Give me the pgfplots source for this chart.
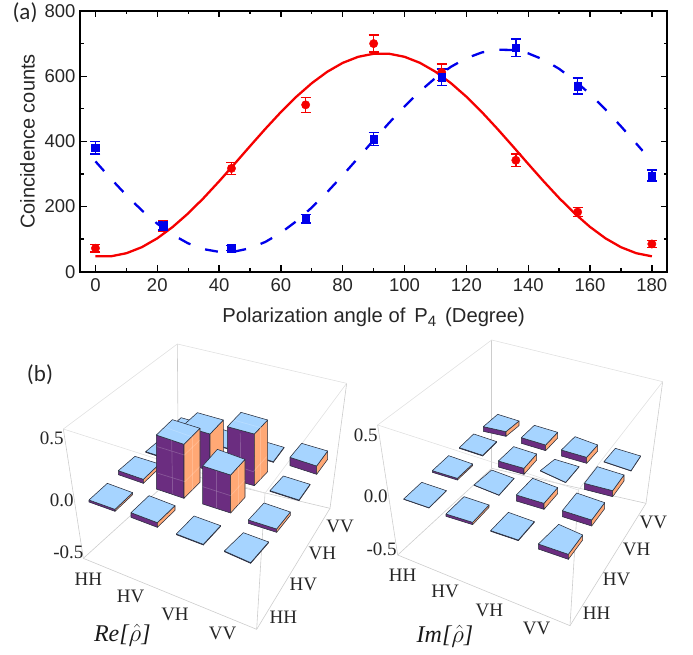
\documentclass[border=0pt]{standalone}
\usepackage{pgfplots}
\pgfplotsset{compat=1.18}
\usepackage{fontspec}
\setmainfont{Liberation Sans}
\newfontfamily\serif{Liberation Serif}
\newfontfamily\calib{Carlito}
\definecolor{barT}{RGB}{166,212,255}
\definecolor{barF}{RGB}{107,45,128}
\definecolor{barR}{RGB}{255,168,117}
\definecolor{edgeC}{RGB}{40,45,60}
\definecolor{boxA}{RGB}{225,225,225}
\definecolor{boxB}{RGB}{205,205,205}
\definecolor{plotR}{RGB}{245,0,0}
\definecolor{plotB}{RGB}{0,0,235}
\pgfplotsset{
  barface/.style={draw=edgeC,line width=.55pt,line join=round,no markers},
  boxline/.style={draw=boxA,line width=.6pt,no markers},
  boxlow/.style={draw=boxB,line width=.6pt,no markers},
  ghost/.style={draw=white,draw opacity=.2,line width=.7pt,no markers},
  panel/.style={hide axis,scale only axis,clip=false,y dir=reverse,ymin=0,ymax=945,xmin=0},
}
\newcommand\cellbar[9]{%
  \pgfmathsetmacro\Ah{#2+#9}\pgfmathsetmacro\Dh{#8+#9}\pgfmathsetmacro\Ch{#6+#9}%
  \edef\temp{%
    \noexpand\addplot[barface,fill=barF] coordinates {(#1,#2) (#7,#8) (#7,\Dh) (#1,\Ah) (#1,#2)};
    \noexpand\addplot[barface,fill=barR] coordinates {(#7,#8) (#5,#6) (#5,\Ch) (#7,\Dh) (#7,#8)};
    \noexpand\addplot[barface,fill=barT] coordinates {(#1,#2) (#3,#4) (#5,#6) (#7,#8) (#1,#2)};
  }\temp}
\newcommand\lab[3]{\node[font=\serif\fontsize{19}{21}\selectfont,text=black!85] at (axis cs:#1,#2) {#3};}
\begin{document}
\begin{tikzpicture}
\useasboundingbox (0,0) rectangle (693pt,655pt);
\begin{axis}[
  at={(80pt,383.3pt)},anchor=south west,scale only axis,
  width=587.3pt,height=260.7pt,
  xmin=-5,xmax=185,ymin=0,ymax=800,
  xtick={0,20,...,180},minor x tick num=1,
  ytick={0,200,...,800},minor y tick num=1,
  tick align=inside,
  major tick length=6.5pt,minor tick length=3.5pt,
  every tick/.style={black,line width=1.3pt},
  axis line style={line width=1.7pt},
  ticklabel style={font=\fontsize{18.5}{20}\selectfont,text=black!85},
  /pgf/number format/assume math mode=true,
  xticklabel style={yshift=-3pt},
  yticklabel style={xshift=-1pt},
  xlabel={Polarization angle of\, P\raisebox{-4pt}{\fontsize{15}{16}\selectfont 4}\, (Degree)},
  xlabel style={font=\fontsize{20.2}{23}\selectfont,text=black!85,yshift=-10pt},
  ylabel={Coincidence counts},
  ylabel style={font=\fontsize{20}{23}\selectfont,text=black!85,yshift=3pt},
  clip=false,
]
\addplot[plotR,line width=2.3pt,no markers,line join=round] coordinates {
(0,47.2)(5,47.2)(10,56.6)(15,75.2)(20,102.4)(25,137.4)(30,179)(35,226.1)(40,277.3)(45,330.8)
(50,385.2)(55,438.7)(60,489.9)(65,537)(70,578.6)(75,613.6)(80,640.8)(85,659.4)(90,668.8)
(95,668.8)(100,659.4)(105,640.8)(110,613.6)(115,578.6)(120,537)(125,489.9)(130,438.7)(135,385.2)
(140,330.8)(145,277.3)(150,226.1)(155,179)(160,137.4)(165,102.4)(170,75.2)(175,56.6)(180,47.2)};
\addplot[plotR,only marks,mark=*,mark size=4.2pt,mark options={draw=plotR,fill=plotR},
  error bars/.cd,y dir=both,y explicit,
  error bar style={draw=plotR,line width=1.4pt},
  error mark options={rotate=90,mark size=5pt,line width=1.4pt,draw=plotR}]
  coordinates {
(0,72)+-(0,12) (22,140)+-(0,17) (44,317)+-(0,18) (68,512)+-(0,23) (90,700)+-(0,26)
(112,612)+-(0,25) (136,342)+-(0,19) (156,183)+-(0,14) (180,85)+-(0,10)};
\addplot[plotB,line width=2.3pt,no markers,dash pattern=on 13pt off 15.5pt] coordinates {
(0,338.5)(5,285.3)(10,234.7)(15,188.2)(20,147.3)(25,113.2)(30,86.9)(35,69.2)(40,60.8)(45,61.7)
(50,72)(55,91.5)(60,119.4)(65,155)(70,197)(75,244.5)(80,295.8)(85,349.3)(90,403.5)(95,456.7)
(100,507.3)(105,553.8)(110,594.7)(115,628.8)(120,655.1)(125,672.8)(130,681.2)(135,680.3)
(140,670)(145,650.5)(150,622.6)(155,587)(160,545)(165,497.5)(170,446.2)(175,392.7)(177,371)};
\addplot[plotB,only marks,mark=square*,mark size=3.8pt,mark options={draw=plotB,fill=plotB},
  error bars/.cd,y dir=both,y explicit,
  error bar style={draw=plotB,line width=1.4pt},
  error mark options={rotate=90,mark size=5pt,line width=1.4pt,draw=plotB}]
  coordinates {
(0,380)+-(0,19) (22,140)+-(0,12) (44,73)+-(0,8) (68,163)+-(0,13) (90,407)+-(0,20)
(112,597)+-(0,25) (136,687)+-(0,27) (156,570)+-(0,25) (180,295)+-(0,17)};
\end{axis}
\node[font=\calib\fontsize{23}{26}\selectfont,text=black!85] at (25pt,642pt) {(a)};
% ---------- Re panel
\begin{axis}[panel,at={(0pt,0pt)},anchor=south west,width=350pt,height=315pt,xmax=1050]
\addplot[boxlow] coordinates {(250,655)(535,397)(990,505)};
\addplot[boxlow] coordinates {(535,397)(532,12)};
\addplot[boxline] coordinates {(190,267)(532,12)(1040,130)};
\addplot[boxlow] coordinates {(190,267)(250,655)(770,868)(990,505)(1040,130)};
\addplot[boxlow] coordinates {(770,868)(795,460)};
\addplot[boxline] coordinates {(190,267)(795,460)(1040,130)};
% row 4
\cellbar{503}{272}{543}{233}{620}{255}{582}{295}{2}
\cellbar{621}{306}{660}{266}{735}{290}{700}{330}{2}
\cellbar{740}{340}{778}{300}{852}{322}{820}{365}{2}
\cellbar{870}{352}{905}{310}{983}{333}{950}{378}{25}
% row 3
\cellbar{437}{335}{485}{295}{560}{318}{515}{360}{2}
\cellbar{548}{258}{592}{218}{670}{240}{630}{282}{110}
\cellbar{682}{260}{723}{217}{803}{240}{763}{282}{155}
\addplot[ghost] coordinates {(684,370)(760,395)(800,350)};
\addplot[ghost] coordinates {(721,280)(722,425)};
\addplot[ghost] coordinates {(782,262)(782,420)};
\addplot[ghost] coordinates {(700,240)(783,263)};
\cellbar{810}{452}{850}{408}{930}{433}{897}{480}{2}
% row 2
\cellbar{355}{392}{405}{349}{478}{372}{430}{418}{12}
\cellbar{469}{285}{517}{239}{600}{265}{552}{313}{162}
\addplot[ghost] coordinates {(472,320)(553,345)(600,300)};
\addplot[ghost] coordinates {(474,400)(555,425)(600,380)};
\addplot[ghost] coordinates {(515,300)(518,462)};
\addplot[ghost] coordinates {(578,290)(578,450)};
\addplot[ghost] coordinates {(495,262)(575,290)};
\cellbar{608}{378}{652}{328}{735}{358}{692}{405}{114}
\addplot[ghost] coordinates {(608,440)(692,467)(735,420)};
\addplot[ghost] coordinates {(650,392)(650,505)};
\addplot[ghost] coordinates {(714,382)(714,495)};
\cellbar{745}{540}{792}{489}{871}{516}{830}{567}{10}
% row 1
\cellbar{267}{480}{322}{430}{398}{458}{345}{508}{6}
\cellbar{393}{518}{447}{467}{525}{497}{472}{548}{14}
\cellbar{529}{582}{582}{528}{662}{557}{610}{613}{2}
\cellbar{673}{633}{730}{578}{806}{606}{752}{668}{2}
\lab{265}{718}{HH}\lab{392}{768}{HV}\lab{525}{822}{VH}\lab{668}{880}{VV}
\lab{850}{832}{HH}\lab{910}{732}{HV}\lab{967}{640}{VH}\lab{1020}{558}{VV}
\lab{155}{295}{0.5}\lab{185}{480}{0.0}\lab{205}{638}{-0.5}
\node[font=\serif\itshape\fontsize{24}{27}\selectfont,text=black!90] at (axis cs:367,885) {Re[$\hat{\rho}$]};
\node[font=\calib\fontsize{23}{26}\selectfont,text=black!85] at (axis cs:120,103) {(b)};
\end{axis}
% ---------- Im panel
\begin{axis}[panel,at={(340pt,0pt)},anchor=south west,width=353pt,height=315pt,xmax=1059]
\addplot[boxlow] coordinates {(173,645)(455,385)(918,490)};
\addplot[boxlow] coordinates {(455,385)(455,0)};
\addplot[boxline] coordinates {(113,255)(455,0)(968,125)};
\addplot[boxlow] coordinates {(113,255)(173,645)(690,857)(918,490)(968,125)};
\addplot[boxlow] coordinates {(690,857)(715,450)};
\addplot[boxline] coordinates {(113,255)(715,450)(968,125)};
% row 4
\cellbar{430}{260}{473}{223}{537}{243}{498}{275}{14}
\cellbar{544}{293}{583}{256}{653}{277}{617}{315}{17}
\cellbar{664}{330}{705}{290}{773}{315}{740}{352}{18}
\cellbar{792}{365}{826}{325}{902}{348}{873}{392}{1}
% row 3
\cellbar{358}{323}{401}{282}{470}{305}{428}{346}{2}
\cellbar{475}{363}{521}{320}{590}{342}{552}{385}{18}
\cellbar{601}{392}{644}{358}{717}{380}{677}{427}{1}
\cellbar{733}{430}{772}{380}{852}{405}{818}{452}{18}
% row 2
\cellbar{277}{392}{326}{347}{398}{372}{352}{415}{5}
\cellbar{402}{435}{455}{390}{522}{415}{477}{465}{1}
\cellbar{529}{465}{578}{415}{653}{443}{612}{490}{18}
\cellbar{667}{512}{710}{459}{794}{488}{755}{540}{18}
% row 1
\cellbar{191}{477}{245}{427}{319}{452}{267}{503}{1}
\cellbar{318}{522}{372}{470}{447}{495}{398}{547}{7}
\cellbar{452}{572}{505}{517}{583}{545}{535}{600}{2}
\cellbar{595}{612}{656}{553}{728}{585}{685}{643}{15}
\lab{188}{705}{HH}\lab{315}{755}{HV}\lab{448}{810}{VH}\lab{590}{866}{VV}
\lab{770}{820}{HH}\lab{830}{718}{HV}\lab{890}{628}{VH}\lab{940}{547}{VV}
\lab{77}{285}{0.5}\lab{107}{468}{0.0}\lab{125}{628}{-0.5}
\node[font=\serif\itshape\fontsize{24}{27}\selectfont,text=black!90] at (axis cs:315,889) {Im[$\hat{\rho}$]};
\end{axis}
\end{tikzpicture}
\end{document}
